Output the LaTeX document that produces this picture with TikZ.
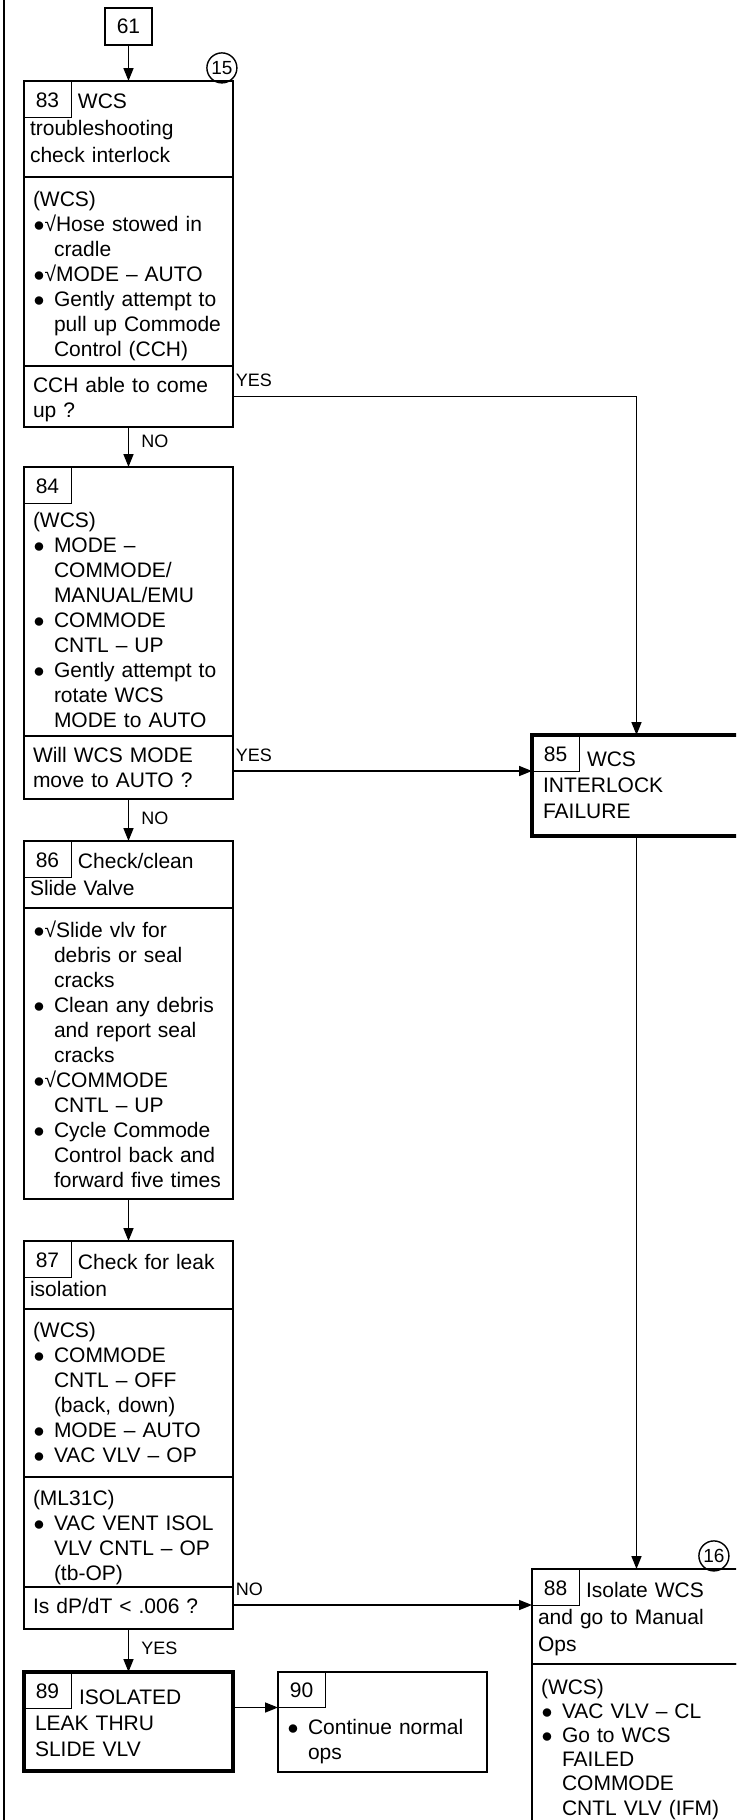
\documentclass[tikz,border=0pt]{standalone}
\usepackage{fontspec}
\setmainfont{Liberation Sans}
\usetikzlibrary{arrows.meta,positioning}
\newcommand{\bdot}{\hspace{.3pt}$\bullet$}
\newcommand{\bx}{\makebox[10.5pt][l]{\bdot}}
\newcommand{\ind}{\hspace*{10.5pt}}
\tikzset{
  sec/.style={draw,line width=1pt,rectangle,outer sep=0pt,inner ysep=0pt,align=left,minimum width=104.5pt},
  hdr/.style={sec,inner xsep=3pt,text width=98.5pt,font=\fontsize{10.5}{13.5}\selectfont},
  body/.style={sec,inner xsep=4.5pt,text width=95.5pt,font=\fontsize{10.5}{12.5}\selectfont},
  endbox/.style={sec,line width=2.4pt,inner xsep=5.5pt,text width=93.5pt,font=\fontsize{10.5}{13}\selectfont},
  numbox/.style={draw,line width=.5pt,minimum width=23.5pt,inner sep=0pt,outer sep=0pt,text height=13pt,text depth=5pt,font=\fontsize{10.5}{12.5}\selectfont},
  start/.style={numbox,line width=.8pt,text height=12.75pt,text depth=5.75pt},
  tag/.style={circle,draw,line width=.7pt,minimum size=15pt,inner sep=0pt,font=\fontsize{9.5}{10}\selectfont},
  span/.style 2 args={text height=#1,text depth=#2},
  flow/.style={-{Triangle[length=6.5pt,width=5pt]},line width=.8pt},
  lbl/.style={font=\fontsize{9}{10}\selectfont,inner sep=1pt}
}
\begin{document}
\begin{tikzpicture}
\useasboundingbox (0pt,0pt) rectangle (368pt,-910pt);
\clip (0pt,0pt) rectangle (368pt,-910pt);
\draw[line width=1pt] (1.75pt,0pt) -- (1.75pt,-910pt);

% left column
\node[start] (s61) at (64.25pt,-13.25pt) {61};
\node[hdr,span={13.5pt}{34.5pt},below=18pt of s61] (t83) {\hspace*{24pt}WCS\\troubleshooting\\check interlock};
\node[numbox,anchor=north west] (k83) at (t83.north west) {83};
\node[tag,anchor=south east] (c15) at ([yshift=1pt]t83.north east) {15};
\node[body,span={14.5pt}{80pt},below=0pt of t83] (b83) {(WCS)\\\bdot√Hose stowed in\\\ind cradle\\\bdot√MODE – AUTO\\\bx Gently attempt to\\\ind pull up Commode\\\ind Control (CCH)};
\node[body,span={13pt}{17.5pt},below=0pt of b83] (q83) {CCH able to come\\up ?};

\node[body,span={30pt}{104.5pt},below=20pt of q83] (b84) {(WCS)\\\bx MODE –\\\ind COMMODE/\\\ind MANUAL/EMU\\\bx COMMODE\\\ind CNTL – UP\\\bx Gently attempt to\\\ind rotate WCS\\\ind MODE to AUTO};
\node[numbox,anchor=north west] (k84) at (b84.north west) {84};
\node[body,span={13pt}{18.5pt},below=0pt of b84] (q84) {Will WCS MODE\\move to AUTO ?};

\node[hdr,span={13.5pt}{20pt},below=21pt of q84] (t86) {\hspace*{24pt}Check/clean\\Slide Valve};
\node[numbox,anchor=north west] (k86) at (t86.north west) {86};
\node[body,span={14.5pt}{131pt},below=0pt of t86] (b86) {\bdot√Slide vlv for\\\ind debris or seal\\\ind cracks\\\bx Clean any debris\\\ind and report seal\\\ind cracks\\\bdot√COMMODE\\\ind CNTL – UP\\\bx Cycle Commode\\\ind Control back and\\\ind forward five times};

\node[hdr,span={14pt}{20pt},below=21pt of b86] (t87) {\hspace*{24pt}Check for leak\\isolation};
\node[numbox,anchor=north west] (k87) at (t87.north west) {87};
\node[body,span={14pt}{70pt},below=0pt of t87] (b87) {(WCS)\\\bx COMMODE\\\ind CNTL – OFF\\\ind (back, down)\\\bx MODE – AUTO\\\bx VAC VLV – OP};
\node[body,span={14pt}{41pt},below=0pt of b87] (m87) {(ML31C)\\\bx VAC VENT ISOL\\\ind VLV CNTL – OP\\\ind (tb-OP)};
\node[body,span={13pt}{8pt},below=0pt of m87] (q87) {Is dP/dT < .006 ?};

\node[endbox,span={16pt}{33.5pt},below=21.5pt of q87] (n89) {\hspace*{22pt}ISOLATED\\LEAK THRU\\SLIDE VLV};
\node[numbox,anchor=north west] (k89) at (n89.north west) {89};
\node[body,span={31.5pt}{18.5pt},right=22.5pt of n89] (n90) {\bx Continue normal\\\ind ops};
\node[numbox,anchor=north west] (k90) at (n90.north west) {90};

% right column
\node[endbox,span={15.5pt}{35pt},anchor=north west] (n85) at ([xshift=149.5pt,yshift=.5pt]q84.north east) {\hspace*{22pt}WCS\\INTERLOCK\\FAILURE};
\node[numbox,anchor=north west] (k85) at (n85.north west) {85};

\node[hdr,span={14pt}{33.5pt},anchor=north west] (t88) at ([xshift=149.5pt,yshift=9pt]q87.north east) {\hspace*{24pt}Isolate WCS\\and go to Manual\\Ops};
\node[numbox,anchor=north west] (k88) at (t88.north west) {88};
\node[tag,anchor=south east] (c16) at ([xshift=-8pt,yshift=1pt]t88.north east) {16};
\node[body,span={15pt}{100pt},font=\fontsize{10.5}{12.1}\selectfont,below=0pt of t88] (b88) {(WCS)\\\bx VAC VLV – CL\\\bx Go to WCS\\\ind FAILED\\\ind COMMODE\\\ind CNTL VLV (IFM)};

% connectors
\draw[flow] (s61) -- (t83);
\draw[flow] (q83) -- node[lbl,right=5pt,pos=.35] {NO} (b84);
\draw[flow] (q84) -- node[lbl,right=5pt,pos=.45] {NO} (t86);
\draw[flow] (b86) -- (t87);
\draw[flow] (q87) -- node[lbl,right=5pt,pos=.45] {YES} (n89);
\draw[flow] (n89.east |- k90.south) -- (k90.south -| n90.west);
\draw[flow] (q83.east) node[lbl,above right,yshift=3.5pt] {YES} -| (n85.north);
\draw[flow] (q84.east |- k85.south) node[lbl,above right,yshift=3.5pt] {YES} -- (k85.south -| n85.west);
\draw[flow] (n85) -- (t88);
\draw[flow] (q87.east |- k88.south) node[lbl,above right,yshift=3.5pt] {NO} -- (k88.south -| t88.west);
\end{tikzpicture}
\end{document}
